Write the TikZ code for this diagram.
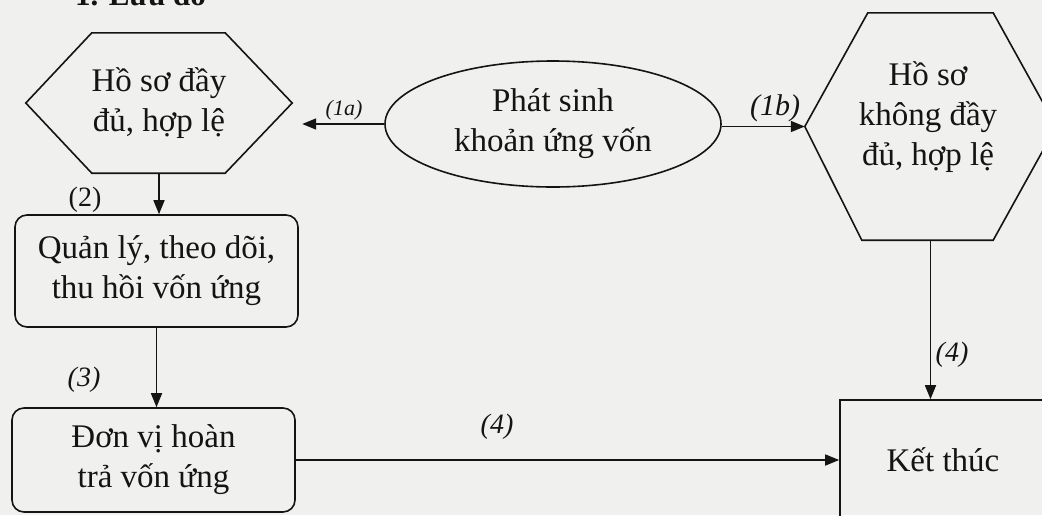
\documentclass[tikz,border=0pt]{standalone}
\usepackage{fontspec}
\setmainfont{Liberation Serif}
\usetikzlibrary{arrows.meta,shapes.geometric}
\definecolor{paper}{RGB}{240,240,238}
\definecolor{ink}{RGB}{20,20,20}

\begin{document}
\begin{tikzpicture}[x=1pt,y=-1pt,
  every node/.style={font=\fontsize{33}{40}\selectfont, align=center, inner sep=0pt, text=ink},
  shapeline/.style={draw=ink, line width=1.6pt},
  roundbox/.style={shapeline, rounded corners=12pt},
  lbl/.style={font=\fontsize{28}{30}\selectfont\itshape},
  conn/.style={draw=ink, line width=1.6pt, -{Triangle[length=14pt,width=11pt]}}
]
% page
\fill[paper] (0,0) rectangle (1042,515);
\useasboundingbox (0,0) rectangle (1042,515);

% heading, partly above the page edge
\node[anchor=base west, font=\fontsize{31}{36}\selectfont\bfseries] (ttl) at (75,5) {1. Lưu đồ};

% left hexagon: complete, valid file
\node[minimum width=266pt, minimum height=140pt] (h1) at (159,103) {Hồ sơ đầy\\đủ, hợp lệ};
\draw[shapeline] ([xshift=66pt]h1.north west) -- ([xshift=-67pt]h1.north east) -- (h1.east)
  -- ([xshift=-67pt]h1.south east) -- ([xshift=66pt]h1.south west) -- (h1.west) -- cycle;

% right hexagon: incomplete file
\node[minimum width=251pt, minimum height=227pt] (h2) at (930.5,126.5) {};
\draw[shapeline] ([xshift=63pt]h2.north west) -- ([xshift=-63pt]h2.north east) -- (h2.east)
  -- ([xshift=-63pt]h2.south east) -- ([xshift=57pt]h2.south west) -- (h2.west) -- cycle;
\node (h2t) at (928,117) {Hồ sơ\\không đầy\\đủ, hợp lệ};

% start event
\node[shapeline, ellipse, minimum width=336pt, minimum height=126pt] (el) at (553,124) {Phát sinh\\khoản ứng vốn};

% process boxes
\node[roundbox, minimum width=283pt, minimum height=112pt] (q) at (156.5,271) {Quản lý, theo dõi,\\thu hồi vốn ứng};
\node[roundbox, minimum width=283pt, minimum height=104pt] (d) at (153.5,460) {Đơn vị hoàn\\trả vốn ứng};

% end box
\node[shapeline, minimum width=206pt, minimum height=120pt] (ket) at (943,460) {Kết thúc};

% connectors
\draw[conn, shorten >=10pt] (el.west) -- (el.west -| h1.east);
\draw[conn] (el.east |- h2.west) -- (h2.west);
\draw[conn] (h1.south) -- (h1.south |- q.north);
\draw[conn] (q.south) -- (q.south |- d.north);
\draw[conn] (d.east) -- (d.east -| ket.west);
\draw[conn] (h2.south) -- (h2.south |- ket.north);

% connector labels
\node[font=\fontsize{22}{24}\selectfont\itshape] (l1a) at (344,110) {(1a)};
\node[font=\fontsize{30}{30}\selectfont\itshape] (l1b) at (775,108) {(1b)};
\node[font=\fontsize{28}{30}\selectfont] (l2) at (85,200) {(2)};
\node[lbl] (l3) at (84,380) {(3)};
\node[lbl] (l4a) at (497,427) {(4)};
\node[lbl] (l4b) at (952,355) {(4)};
\end{tikzpicture}
\end{document}
